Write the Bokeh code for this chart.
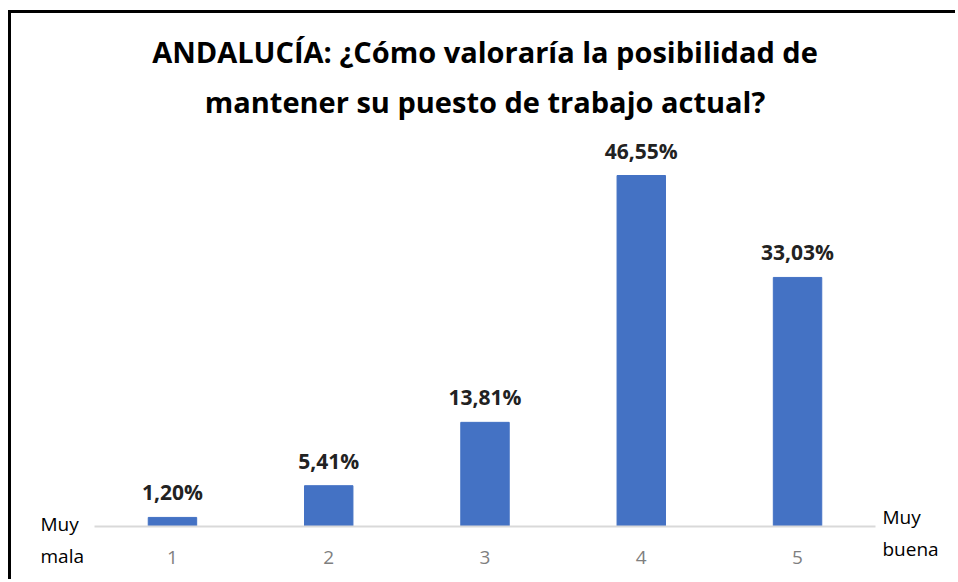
from bokeh.plotting import figure
from bokeh.models import ColumnDataSource, Label, Range1d, LabelSet, Title, FactorRange
from bokeh.core.properties import value
from bokeh.embed import file_html
from bokeh.resources import INLINE

categories = ["1", "2", "3", "4", "5"]
values = [1.20, 5.41, 13.81, 46.55, 33.03]
labels = ["1,20%", "5,41%", "13,81%", "46,55%", "33,03%"]
title_lines = ["ANDALUCÍA: ¿Cómo valoraría la posibilidad de", "mantener su puesto de trabajo actual?"]
left_end = ["Muy", "mala"]
right_end = ["Muy", "buena"]

FONT = "Open Sans"
W, H = 947, 569

src = ColumnDataSource(dict(x=categories, top=values, lab=labels))

p = figure(x_range=FactorRange(*categories, range_padding=0.53, range_padding_units="absolute"),
           y_range=Range1d(-7.43, 52.52), width=W, height=H, title=None,
           output_backend="svg", toolbar_location=None,
           min_border_left=0, min_border_right=0, min_border_top=117, min_border_bottom=0)
p.styles = {"border-top": "3px solid black", "border-left": "3px solid black",
            "margin-top": "10px", "margin-left": "8px"}
p.outline_line_color = None
p.xgrid.grid_line_color = None
p.ygrid.grid_line_color = None
p.yaxis.visible = False

p.vbar(x="x", top="top", width=0.31, source=src, color="#4472C4")
p.add_layout(LabelSet(x="x", y="top", text="lab", source=src, text_align="center",
                      text_baseline="bottom", y_offset=11, text_font=value(FONT),
                      text_font_style="bold", text_font_size="21px", text_color="#222222"))

ax = p.xaxis[0]
ax.fixed_location = 0
ax.bounds = (0, 5)
ax.axis_line_color = "#D9D9D9"
ax.axis_line_width = 2
ax.major_tick_line_color = None
ax.minor_tick_line_color = None
ax.major_label_text_font = FONT
ax.major_label_text_font_size = "19px"
ax.major_label_text_color = "#7F7F7F"
ax.major_label_standoff = 19

# title lines: the one nearest the frame is added first
for t, so in ((title_lines[1], 19), (title_lines[0], 0)):
    p.add_layout(Title(text=t, align="center", offset=4, standoff=so, text_font=FONT,
                       text_font_style="bold", text_font_size="29px", text_color="#000000"),
                 "above")

# screen units are measured from the frame's bottom-left corner
for i, t in enumerate(left_end):
    p.add_layout(Label(x=29, y=59 - i * 32, x_units="screen", y_units="screen", text=t,
                       text_align="left", text_baseline="middle", text_font=FONT,
                       text_font_size="19px", text_color="#000000"))
for i, t in enumerate(right_end):
    p.add_layout(Label(x=871, y=66 - i * 32, x_units="screen", y_units="screen", text=t,
                       text_align="left", text_baseline="middle", text_font=FONT,
                       text_font_size="19px", text_color="#000000"))

open("out.html", "w").write(file_html(p, INLINE))
